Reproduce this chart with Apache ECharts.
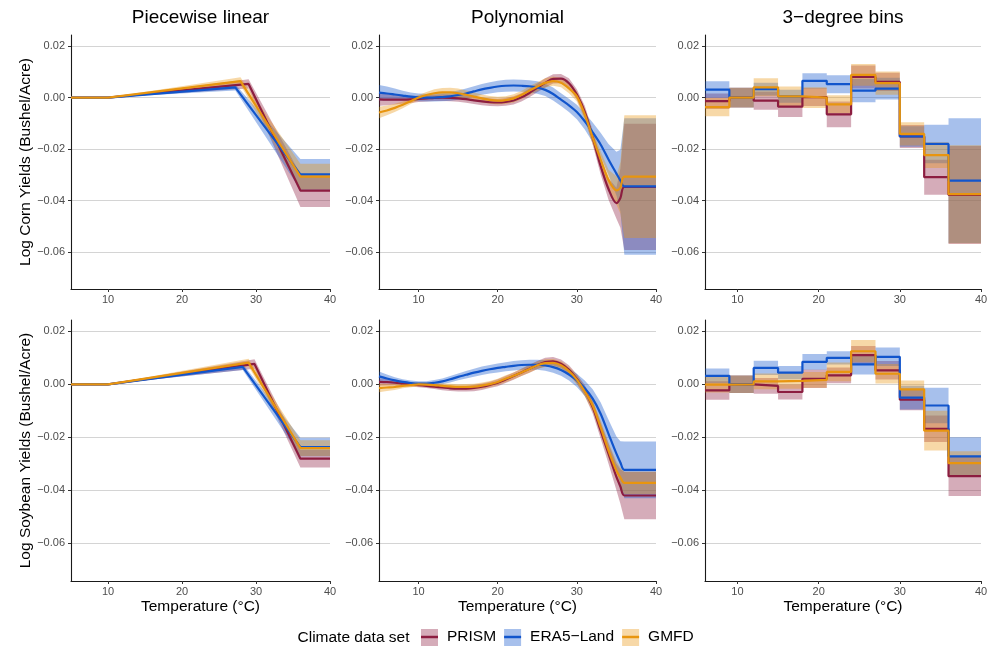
<!DOCTYPE html>
<html>
<head>
<meta charset="utf-8">
<script src="https://cdn.jsdelivr.net/npm/echarts@6/dist/echarts.min.js"></script>
<style>
html, body { margin: 0; padding: 0; background: #fff; }
#chart { width: 995px; height: 648px; }
</style>
</head>
<body>
<div id="chart"></div>
<script>
// climate data sets
var names = ['PRISM', 'ERA5\u2212Land', 'GMFD'];
var colors = ['#8c1d40', '#1155cc', '#e8950f'];

var yTicks = [-0.06, -0.04, -0.02, 0, 0.02];
var xTicks = [10, 20, 30, 40];

// piecewise linear: knots, fit, half width of the band
var pwCornPrismX = [5, 10, 29.0, 36, 40];
var pwCornPrismY = [0, 0, 0.0053, -0.0361, -0.0361];
var pwCornPrismCi = [0, 0, 0.0018, 0.0064, 0.0064];
var pwCornEraX = [5, 10, 27.2, 36, 40];
var pwCornEraY = [0, 0, 0.0040, -0.0298, -0.0298];
var pwCornEraCi = [0, 0, 0.0012, 0.0060, 0.0060];
var pwCornGmfdX = [5, 10, 27.9, 36, 40];
var pwCornGmfdY = [0, 0, 0.0064, -0.0307, -0.0307];
var pwCornGmfdCi = [0, 0, 0.0015, 0.0050, 0.0050];

var pwSoyPrismX = [5, 10, 29.8, 36, 40];
var pwSoyPrismY = [0, 0, 0.0077, -0.0281, -0.0281];
var pwSoyPrismCi = [0, 0, 0.0018, 0.0033, 0.0033];
var pwSoyEraX = [5, 10, 28.2, 36, 40];
var pwSoyEraY = [0, 0, 0.0066, -0.0237, -0.0237];
var pwSoyEraCi = [0, 0, 0.0012, 0.0035, 0.0035];
var pwSoyGmfdX = [5, 10, 29.0, 36, 40];
var pwSoyGmfdY = [0, 0, 0.0082, -0.0241, -0.0241];
var pwSoyGmfdCi = [0, 0, 0.0015, 0.0030, 0.0030];

// polynomial
var polyX = [5, 6, 7, 8, 9, 10, 11, 12, 13, 14, 15, 16, 17, 18, 19, 20, 21, 22, 23, 24, 25, 26, 27, 28, 29, 30, 31, 32, 33, 34, 35, 35.5, 36, 40];

var polyCornPrismY = [-0.0007, -0.0008, -0.0008, -0.0008, -0.0007, -0.0005, -0.0003, -0.0001, 0.0000, -0.0001, -0.0003, -0.0006, -0.0011, -0.0015, -0.0018, -0.0019, -0.0017, -0.0011, 0.0001, 0.0018, 0.0038, 0.0057, 0.0073, 0.0074, 0.0056, 0.0012, -0.0055, -0.0155, -0.0265, -0.0355, -0.0410, -0.0390, -0.0347, -0.0347];
var polyCornPrismCi = [0.0025, 0.0022, 0.0019, 0.0016, 0.0014, 0.0012, 0.0012, 0.0012, 0.0013, 0.0013, 0.0013, 0.0014, 0.0014, 0.0015, 0.0015, 0.0015, 0.0015, 0.0016, 0.0016, 0.0017, 0.0017, 0.0018, 0.0018, 0.0018, 0.0019, 0.0020, 0.0023, 0.0027, 0.0033, 0.0042, 0.0060, 0.0115, 0.0245, 0.0245];
var polyCornEraY = [0.0019, 0.0016, 0.0012, 0.0008, 0.0004, 0.0001, 0.0000, 0.0000, 0.0002, 0.0005, 0.0010, 0.0016, 0.0024, 0.0032, 0.0038, 0.0043, 0.0046, 0.0047, 0.0046, 0.0044, 0.0039, 0.0030, 0.0014, -0.0008, -0.0030, -0.0056, -0.0092, -0.0135, -0.0182, -0.0240, -0.0295, -0.0322, -0.0345, -0.0345];
var polyCornEraCi = [0.0030, 0.0027, 0.0023, 0.0019, 0.0016, 0.0015, 0.0015, 0.0015, 0.0016, 0.0017, 0.0018, 0.0019, 0.0020, 0.0021, 0.0022, 0.0022, 0.0023, 0.0023, 0.0023, 0.0023, 0.0024, 0.0024, 0.0025, 0.0025, 0.0026, 0.0028, 0.0032, 0.0038, 0.0046, 0.0060, 0.0085, 0.0120, 0.0265, 0.0265];
var polyCornGmfdY = [-0.0058, -0.0050, -0.0040, -0.0028, -0.0014, 0.0000, 0.0010, 0.0017, 0.0020, 0.0020, 0.0017, 0.0011, 0.0004, -0.0003, -0.0009, -0.0012, -0.0010, -0.0003, 0.0010, 0.0027, 0.0043, 0.0057, 0.0064, 0.0058, 0.0036, 0.0005, -0.0065, -0.0155, -0.0240, -0.0320, -0.0360, -0.0350, -0.0307, -0.0307];
var polyCornGmfdCi = [0.0022, 0.0019, 0.0016, 0.0013, 0.0011, 0.0010, 0.0012, 0.0015, 0.0017, 0.0018, 0.0018, 0.0017, 0.0016, 0.0015, 0.0015, 0.0015, 0.0015, 0.0016, 0.0016, 0.0017, 0.0017, 0.0018, 0.0018, 0.0018, 0.0019, 0.0020, 0.0023, 0.0027, 0.0032, 0.0040, 0.0055, 0.0100, 0.0238, 0.0238];

var polySoyPrismY = [0.0009, 0.0008, 0.0006, 0.0003, 0.0000, -0.0003, -0.0006, -0.0009, -0.0012, -0.0015, -0.0016, -0.0016, -0.0014, -0.0009, -0.0002, 0.0006, 0.0018, 0.0031, 0.0045, 0.0059, 0.0073, 0.0084, 0.0087, 0.0078, 0.0055, 0.0020, -0.0023, -0.0086, -0.0174, -0.0262, -0.0350, -0.0386, -0.0420, -0.0420];
var polySoyPrismCi = [0.0014, 0.0012, 0.0010, 0.0009, 0.0008, 0.0008, 0.0008, 0.0009, 0.0010, 0.0010, 0.0011, 0.0011, 0.0012, 0.0012, 0.0012, 0.0013, 0.0013, 0.0014, 0.0014, 0.0015, 0.0015, 0.0016, 0.0016, 0.0016, 0.0017, 0.0018, 0.0020, 0.0024, 0.0030, 0.0038, 0.0050, 0.0065, 0.0090, 0.0090];
var polySoyEraY = [0.0030, 0.0022, 0.0015, 0.0009, 0.0005, 0.0003, 0.0003, 0.0006, 0.0011, 0.0019, 0.0028, 0.0036, 0.0044, 0.0051, 0.0057, 0.0062, 0.0066, 0.0070, 0.0073, 0.0074, 0.0074, 0.0071, 0.0065, 0.0054, 0.0037, 0.0015, -0.0015, -0.0054, -0.0111, -0.0187, -0.0262, -0.0295, -0.0323, -0.0323];
var polySoyEraCi = [0.0018, 0.0015, 0.0012, 0.0010, 0.0009, 0.0009, 0.0009, 0.0010, 0.0011, 0.0012, 0.0013, 0.0014, 0.0015, 0.0016, 0.0016, 0.0017, 0.0017, 0.0018, 0.0018, 0.0019, 0.0019, 0.0020, 0.0021, 0.0022, 0.0023, 0.0025, 0.0029, 0.0035, 0.0043, 0.0053, 0.0065, 0.0080, 0.0107, 0.0107];
var polySoyGmfdY = [-0.0014, -0.0012, -0.0010, -0.0006, -0.0003, 0.0000, -0.0001, -0.0003, -0.0006, -0.0008, -0.0010, -0.0010, -0.0009, -0.0005, 0.0001, 0.0009, 0.0021, 0.0032, 0.0045, 0.0058, 0.0072, 0.0080, 0.0081, 0.0072, 0.0050, 0.0018, -0.0027, -0.0080, -0.0162, -0.0250, -0.0326, -0.0352, -0.0372, -0.0372];
var polySoyGmfdCi = [0.0016, 0.0013, 0.0011, 0.0009, 0.0008, 0.0008, 0.0008, 0.0009, 0.0009, 0.0010, 0.0010, 0.0011, 0.0011, 0.0012, 0.0012, 0.0012, 0.0013, 0.0013, 0.0014, 0.0014, 0.0014, 0.0015, 0.0015, 0.0015, 0.0016, 0.0017, 0.0019, 0.0022, 0.0026, 0.0030, 0.0035, 0.0038, 0.0042, 0.0042];

// 3-degree bins: edges, one value per bin
var binEdges = [6, 9, 12, 15, 18, 21, 24, 27, 30, 33, 36, 40];

var binCornPrismY = [-0.0014, 0.0000, -0.0012, -0.0035, 0.0002, -0.0065, 0.0080, 0.0061, -0.0151, -0.0309, -0.0378];
var binCornPrismCi = [0.0030, 0.0038, 0.0035, 0.0040, 0.0035, 0.0050, 0.0045, 0.0035, 0.0045, 0.0068, 0.0190];
var binCornEraY = [0.0031, 0.0000, 0.0033, 0.0005, 0.0065, 0.0052, 0.0027, 0.0035, -0.0151, -0.0180, -0.0322];
var binCornEraCi = [0.0032, 0.0038, 0.0025, 0.0025, 0.0030, 0.0035, 0.0045, 0.0042, 0.0040, 0.0075, 0.0242];
var binCornGmfdY = [-0.0037, 0.0000, 0.0040, 0.0005, 0.0000, -0.0026, 0.0088, 0.0056, -0.0141, -0.0223, -0.0375];
var binCornGmfdCi = [0.0035, 0.0038, 0.0035, 0.0038, 0.0040, 0.0035, 0.0042, 0.0045, 0.0045, 0.0050, 0.0190];

var binSoyPrismY = [-0.0023, 0.0000, -0.0006, -0.0029, 0.0021, 0.0034, 0.0110, 0.0053, -0.0058, -0.0168, -0.0347];
var binSoyPrismCi = [0.0035, 0.0033, 0.0030, 0.0028, 0.0035, 0.0030, 0.0035, 0.0035, 0.0040, 0.0050, 0.0075];
var binSoyEraY = [0.0032, 0.0000, 0.0062, 0.0044, 0.0085, 0.0100, 0.0075, 0.0104, -0.0050, -0.0080, -0.0272];
var binSoyEraCi = [0.0028, 0.0033, 0.0027, 0.0025, 0.0030, 0.0025, 0.0038, 0.0035, 0.0045, 0.0067, 0.0072];
var binSoyGmfdY = [-0.0001, 0.0000, 0.0011, 0.0013, 0.0017, 0.0047, 0.0125, 0.0040, -0.0019, -0.0175, -0.0298];
var binSoyGmfdCi = [0.0030, 0.0033, 0.0030, 0.0030, 0.0030, 0.0035, 0.0042, 0.0037, 0.0033, 0.0075, 0.0045];

var font = '"Liberation Sans", Arial, Helvetica, sans-serif';

var grids = [
	{left: 71, top: 35, width: 259, height: 254},
	{left: 379, top: 35, width: 277, height: 254},
	{left: 705, top: 35, width: 276, height: 254},
	{left: 71, top: 320, width: 259, height: 261},
	{left: 379, top: 320, width: 277, height: 261},
	{left: 705, top: 320, width: 276, height: 261}
];

var panels = [
	{kind: 'pw', sets: [[pwCornPrismX, pwCornPrismY, pwCornPrismCi], [pwCornEraX, pwCornEraY, pwCornEraCi], [pwCornGmfdX, pwCornGmfdY, pwCornGmfdCi]]},
	{kind: 'poly', sets: [[polyX, polyCornPrismY, polyCornPrismCi], [polyX, polyCornEraY, polyCornEraCi], [polyX, polyCornGmfdY, polyCornGmfdCi]]},
	{kind: 'bin', sets: [[binEdges, binCornPrismY, binCornPrismCi], [binEdges, binCornEraY, binCornEraCi], [binEdges, binCornGmfdY, binCornGmfdCi]]},
	{kind: 'pw', sets: [[pwSoyPrismX, pwSoyPrismY, pwSoyPrismCi], [pwSoyEraX, pwSoyEraY, pwSoyEraCi], [pwSoyGmfdX, pwSoyGmfdY, pwSoyGmfdCi]]},
	{kind: 'poly', sets: [[polyX, polySoyPrismY, polySoyPrismCi], [polyX, polySoyEraY, polySoyEraCi], [polyX, polySoyGmfdY, polySoyGmfdCi]]},
	{kind: 'bin', sets: [[binEdges, binSoyPrismY, binSoyPrismCi], [binEdges, binSoyEraY, binSoyEraCi], [binEdges, binSoyGmfdY, binSoyGmfdCi]]}
];

function fmtY(v) {
	return (v < 0 ? '\u2212' : '') + Math.abs(v).toFixed(2);
}

var xAxes = [], yAxes = [], bands = [], lines = [];

grids.forEach(function (g, p) {
	var col = p % 3, row = Math.floor(p / 3);
	xAxes.push({
		type: 'value', gridIndex: p, min: col === 2 ? 6 : 5, max: 40,
		axisLine: {show: true, onZero: false, lineStyle: {color: '#1a1a1a', width: 1.1}},
		axisTick: {show: true, length: 3, customValues: xTicks, lineStyle: {color: '#333'}},
		axisLabel: {customValues: xTicks, color: '#4d4d4d', fontSize: 11, margin: 5, fontFamily: font},
		splitLine: {show: false},
		name: row === 1 ? 'Temperature (\u00b0C)' : '',
		nameLocation: 'middle', nameGap: 18,
		nameTextStyle: {color: '#000', fontSize: 15.5, fontFamily: font}
	});
	yAxes.push({
		type: 'value', gridIndex: p, min: -0.0743, max: 0.0243,
		axisLine: {show: true, onZero: false, lineStyle: {color: '#1a1a1a', width: 1.1}},
		axisTick: {show: true, length: 3, customValues: yTicks, lineStyle: {color: '#333'}},
		axisLabel: {customValues: yTicks, formatter: fmtY, color: '#4d4d4d', fontSize: 11, margin: 6, fontFamily: font},
		splitLine: {show: true, lineStyle: {color: '#d4d4d4', width: 1}},
		name: col === 0 ? (row === 0 ? 'Log Corn Yields (Bushel/Acre)' : 'Log Soybean Yields (Bushel/Acre)') : '',
		nameLocation: 'middle', nameGap: 37,
		nameTextStyle: {color: '#000', fontSize: 15.5, fontFamily: font}
	});
});

// ribbon between lower and upper limits, drawn as one polygon through the axes
function bandSeries(p, pts, color) {
	return {
		type: 'custom', xAxisIndex: p, yAxisIndex: p, z: 1, silent: true, clip: true,
		encode: {x: 0, y: [1, 2]},
		data: pts,
		renderItem: function (params, api) {
			if (params.dataIndex !== 0) return null;
			var upper = pts.map(function (d) { return api.coord([d[0], d[2]]); });
			var lower = pts.map(function (d) { return api.coord([d[0], d[1]]); }).reverse();
			return {
				type: 'polygon',
				shape: {points: upper.concat(lower)},
				style: {fill: color, opacity: 0.37}
			};
		}
	};
}

panels.forEach(function (pn, p) {
	pn.sets.forEach(function (set, k) {
		var xs = set[0], ys = set[1], ci = set[2];
		var pts = [], fit = [];
		if (pn.kind === 'bin') {
			ys.forEach(function (v, i) {
				pts.push([xs[i], v - ci[i], v + ci[i]], [xs[i + 1], v - ci[i], v + ci[i]]);
				fit.push([xs[i], v]);
			});
			fit.push([xs[xs.length - 1], ys[ys.length - 1]]);
		} else {
			xs.forEach(function (x, i) {
				pts.push([x, ys[i] - ci[i], ys[i] + ci[i]]);
				fit.push([x, ys[i]]);
			});
		}
		bands.push(bandSeries(p, pts, colors[k]));
		lines.push({
			type: 'line', name: names[k], xAxisIndex: p, yAxisIndex: p, z: 3,
			symbol: 'none', silent: true,
			smooth: pn.kind === 'poly' ? 0.3 : false,
			step: pn.kind === 'bin' ? 'end' : false,
			lineStyle: {color: colors[k], width: 2.2},
			itemStyle: {color: colors[k]},
			data: fit
		});
	});
});

var bandFill = ['rgba(140,29,64,0.37)', 'rgba(17,85,204,0.37)', 'rgba(232,149,15,0.37)'];

var chart = echarts.init(document.getElementById('chart'));
chart.setOption({
	animation: false,
	textStyle: {fontFamily: font},
	grid: grids,
	xAxis: xAxes,
	yAxis: yAxes,
	legend: [
		{
			data: names.map(function (n, k) { return {name: n, icon: 'rect', itemStyle: {color: bandFill[k], borderWidth: 0}}; }),
			left: 421, top: 629, padding: 0, itemWidth: 17, itemHeight: 17, itemGap: 8,
			selectedMode: false,
			textStyle: {color: 'rgba(0,0,0,0)', fontSize: 15.5, fontFamily: font, padding: [0, 0, 0, 4]}
		},
		{
			data: names.map(function (n, k) { return {name: n, icon: 'rect', itemStyle: {color: colors[k], borderWidth: 0}}; }),
			left: 421, top: 629, padding: 0, itemWidth: 17, itemHeight: 2.5, itemGap: 8,
			selectedMode: false,
			textStyle: {color: '#000', fontSize: 15.5, fontFamily: font, padding: [0, 0, 0, 4]}
		}
	],
	graphic: [
		{type: 'text', x: 200.5, y: 17.5, style: {text: 'Piecewise linear', fill: '#000', fontSize: 19, fontFamily: font, align: 'center', verticalAlign: 'middle'}},
		{type: 'text', x: 517.5, y: 17.5, style: {text: 'Polynomial', fill: '#000', fontSize: 19, fontFamily: font, align: 'center', verticalAlign: 'middle'}},
		{type: 'text', x: 843, y: 17.5, style: {text: '3\u2212degree bins', fill: '#000', fontSize: 19, fontFamily: font, align: 'center', verticalAlign: 'middle'}},
		{type: 'text', x: 297.5, y: 638, style: {text: 'Climate data set', fill: '#000', fontSize: 15.5, fontFamily: font, align: 'left', verticalAlign: 'middle'}}
	],
	series: bands.concat(lines)
});
</script>
</body>
</html>
